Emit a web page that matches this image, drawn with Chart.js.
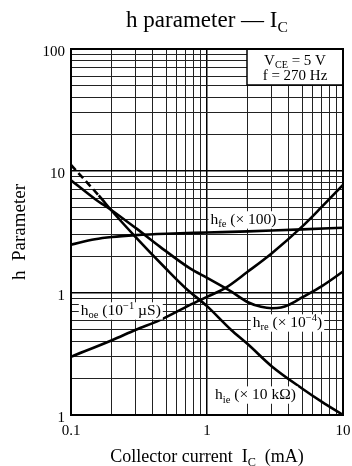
<!DOCTYPE html>
<html>
<head>
<meta charset="utf-8">
<script src="https://cdn.jsdelivr.net/npm/chart.js@4.4.1/dist/chart.umd.min.js"></script>
<style>
  html, body { margin: 0; padding: 0; background: #fff; }
</style>
</head>
<body>
<canvas id="chart" width="352" height="466"></canvas>
<script>
// ---- data (IC in mA) ----
var hfeI = [0.1, 0.15, 0.2, 0.3, 0.5, 1, 2, 3, 5, 10];
var hfeVal = [2.49, 2.76, 2.88, 2.98, 3.06, 3.13, 3.2, 3.25, 3.32, 3.43];

var hieI = [0.1, 0.16, 0.2, 0.3, 0.5, 0.7, 1, 1.5, 2, 3, 5, 7, 10];
var hieVal = [11.2, 6.3, 4.7, 2.86, 1.58, 1.09, 0.78, 0.5, 0.38, 0.25, 0.165, 0.128, 0.1];

var hreI = [0.1, 0.15, 0.2, 0.3, 0.45, 0.75, 1, 1.5, 2, 2.5, 3, 3.5, 4, 5, 7, 10];
var hreVal = [8.4, 5.9, 4.75, 3.4, 2.4, 1.59, 1.33, 1.03, 0.84, 0.77, 0.75, 0.76, 0.8, 0.92, 1.14, 1.5];

var hoeI = [0.1, 0.2, 0.3, 0.45, 0.75, 1, 1.35, 2, 3, 5, 7, 10];
var hoeVal = [0.3, 0.41, 0.5, 0.6, 0.8, 0.93, 1.09, 1.5, 2.12, 3.5, 5.1, 7.7];

var xTicks = [0.1, 1, 10];
var xTickLabels = ['0.1', '1', '10'];
var yTicks = [100, 10, 1, 0.1];
var yTickLabels = ['100', '10', '1', '1'];

var SERIF = '"Liberation Serif", "Times New Roman", serif';

function pts(xs, ys) {
   return xs.map(function (x, i) { return { x: x, y: ys[i] }; });
}

// log grid: 1..9 in every decade
function logGrid(min, max) {
   var out = [];
   for (var d = min; d < max * 0.999; d *= 10) {
      for (var m = 1; m < 10; m++) out.push(+(d * m).toPrecision(3));
   }
   out.push(max);
   return out.map(function (v) { return { value: v }; });
}

function isDecade(v) {
   var l = Math.log10(v);
   return Math.abs(l - Math.round(l)) < 1e-6;
}

// draw text with sub/superscripts, parts = [[text, 'sub'|'sup'|''], ...]
function richText(ctx, parts, x, y, size, align) {
   var widths = parts.map(function (p) {
      var s = p[1] ? size * 0.68 : size;
      ctx.font = s + 'px ' + SERIF;
      return ctx.measureText(p[0]).width;
   });
   var total = widths.reduce(function (a, b) { return a + b; }, 0);
   var cx = align === 'center' ? x - total / 2 : (align === 'right' ? x - total : x);
   ctx.textAlign = 'left';
   ctx.textBaseline = 'alphabetic';
   parts.forEach(function (p, i) {
      var s = p[1] ? size * 0.68 : size;
      var dy = p[1] === 'sub' ? size * 0.22 : (p[1] === 'sup' ? -size * 0.38 : 0);
      ctx.font = s + 'px ' + SERIF;
      ctx.fillText(p[0], cx, y + dy);
      cx += widths[i];
   });
   return { left: x - (align === 'center' ? total / 2 : 0), width: total };
}

// curve labels, anchored at data coords (left edge, baseline)
var curveLabels = [
   { x: 1.06, y: 3.68, parts: [['h', ''], ['fe', 'sub'], [' (\u00d7 100)', '']] },
   { x: 0.118, y: 0.66, parts: [['h', ''], ['oe', 'sub'], [' (10', ''], ['\u22121', 'sup'], [' \u00b5S)', '']] },
   { x: 2.17, y: 0.526, parts: [['h', ''], ['re', 'sub'], [' (\u00d7 10', ''], ['\u22124', 'sup'], [')', '']] },
   { x: 1.145, y: 0.135, parts: [['h', ''], ['ie', 'sub'], [' (\u00d7 10 k\u03a9)', '']] }
];

var overlay = {
   id: 'overlay',
   afterDatasetsDraw: function (chart) {
      var ctx = chart.ctx, a = chart.chartArea;
      var sx = chart.scales.x, sy = chart.scales.y;
      ctx.save();
      ctx.fillStyle = '#000';

      // curve labels with white backing
      curveLabels.forEach(function (l) {
         var px = sx.getPixelForValue(l.x), py = sy.getPixelForValue(l.y);
         var size = 15.5;
         ctx.save();
         ctx.globalAlpha = 0;
         var box = richText(ctx, l.parts, px, py, size, 'left');
         ctx.restore();
         ctx.fillStyle = '#fff';
         ctx.fillRect(px - 2, py - size * 0.82, box.width + 4, size * 1.12);
         ctx.fillStyle = '#000';
         richText(ctx, l.parts, px, py, size, 'left');
      });

      // conditions box
      var bw = 96, bh = 36;
      ctx.fillStyle = '#fff';
      ctx.fillRect(a.right - bw, a.top, bw, bh);
      ctx.strokeStyle = '#000';
      ctx.lineWidth = 1.5;
      ctx.strokeRect(a.right - bw, a.top, bw, bh);
      ctx.fillStyle = '#000';
      var bc = a.right - bw / 2;
      richText(ctx, [['V', ''], ['CE', 'sub'], [' = 5 V', '']], bc, a.top + 16, 15, 'center');
      richText(ctx, [['f = 270 Hz', '']], bc, a.top + 30.5, 15, 'center');

      // frame
      ctx.lineWidth = 2;
      ctx.strokeRect(a.left, a.top, a.right - a.left, a.bottom - a.top);
      ctx.restore();
   },
   afterDraw: function (chart) {
      var ctx = chart.ctx, a = chart.chartArea;
      var sx = chart.scales.x, sy = chart.scales.y;
      ctx.save();
      ctx.fillStyle = '#000';

      // title
      richText(ctx, [['h parameter \u2014 I', ''], ['C', 'sub']], (a.left + a.right) / 2, 27, 23, 'center');

      // tick labels
      ctx.font = '15px ' + SERIF;
      ctx.textAlign = 'right';
      ctx.textBaseline = 'alphabetic';
      yTicks.forEach(function (v, i) {
         ctx.fillText(yTickLabels[i], a.left - 6, sy.getPixelForValue(v) + 7);
      });
      ctx.textAlign = 'center';
      xTicks.forEach(function (v, i) {
         ctx.fillText(xTickLabels[i], sx.getPixelForValue(v), a.bottom + 20);
      });

      // axis titles
      richText(ctx, [['Collector current  I', ''], ['C', 'sub'], ['  (mA)', '']], (a.left + a.right) / 2, 462, 18, 'center');
      ctx.save();
      ctx.translate(25, (a.top + a.bottom) / 2);
      ctx.rotate(-Math.PI / 2);
      richText(ctx, [['h  Parameter', '']], 0, 0, 19, 'center');
      ctx.restore();

      ctx.restore();
   }
};

function curve(label, xs, ys, extra) {
   var ds = {
      label: label,
      data: pts(xs, ys),
      borderColor: '#000',
      borderWidth: 2.6,
      pointRadius: 0,
      fill: false,
      cubicInterpolationMode: 'monotone'
   };
   for (var k in extra) ds[k] = extra[k];
   return ds;
}

var gridOpts = {
   drawTicks: false,
   color: function (c) { return c.tick && isDecade(c.tick.value) ? '#000' : '#222'; },
   lineWidth: function (c) { return c.tick && isDecade(c.tick.value) ? 1.5 : 1; }
};

window.onload = function () {
   var ctx = document.getElementById('chart').getContext('2d');
   window.hChart = new Chart(ctx, {
      type: 'line',
      data: {
         datasets: [
            curve('hfe', hfeI, hfeVal),
            curve('hie', hieI, hieVal, {
               segment: {
                  borderDash: function (c) { return c.p0DataIndex === 0 ? [7, 4] : undefined; }
               }
            }),
            curve('hre', hreI, hreVal),
            curve('hoe', hoeI, hoeVal)
         ]
      },
      options: {
         responsive: false,
         animation: false,
         devicePixelRatio: 1,
         layout: { padding: { left: 71, right: 9, top: 49, bottom: 51 } },
         plugins: {
            legend: { display: false },
            tooltip: { enabled: false }
         },
         scales: {
            x: {
               type: 'logarithmic',
               min: 0.1,
               max: 10,
               afterBuildTicks: function (s) { s.ticks = logGrid(0.1, 10); },
               ticks: { display: false },
               grid: gridOpts,
               border: { display: false }
            },
            y: {
               type: 'logarithmic',
               min: 0.1,
               max: 100,
               afterBuildTicks: function (s) { s.ticks = logGrid(0.1, 100); },
               ticks: { display: false },
               grid: gridOpts,
               border: { display: false }
            }
         }
      },
      plugins: [overlay]
   });
};
</script>
</body>
</html>
